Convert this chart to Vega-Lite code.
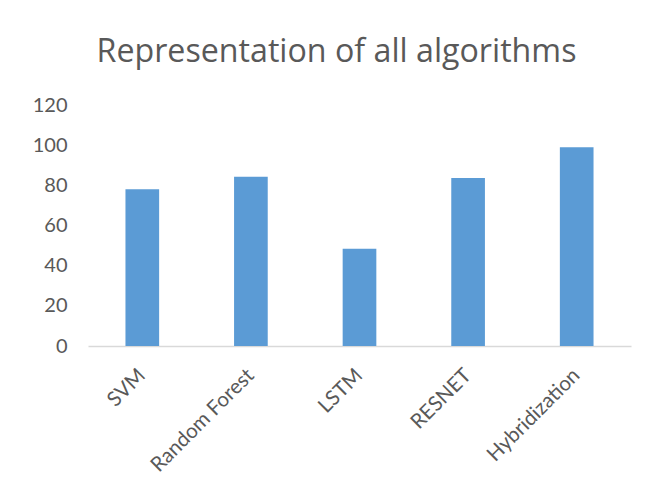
{
  "$schema": "https://vega.github.io/schema/vega-lite/v6.json",
  "width": 543,
  "height": 241,
  "autosize": {"type": "none"},
  "padding": {"left": 88, "top": 105, "right": 18, "bottom": 155},
  "background": "white",
  "title": {
    "text": "Representation of all algorithms",
    "font": "Open Sans",
    "fontSize": 32.2,
    "fontWeight": "normal",
    "color": "#595959",
    "anchor": "middle",
    "frame": "group",
    "dx": -23,
    "offset": 26
  },
  "data": {
    "values": [
      {"algorithm": "SVM", "value": 78},
      {"algorithm": "Random Forest", "value": 84.3},
      {"algorithm": "LSTM", "value": 48.4},
      {"algorithm": "RESNET", "value": 83.7},
      {"algorithm": "Hybridization", "value": 99}
    ]
  },
  "mark": {"type": "bar", "color": "#5B9BD5"},
  "encoding": {
    "x": {
      "field": "algorithm",
      "type": "nominal",
      "sort": null,
      "scale": {"paddingInner": 0.69, "paddingOuter": 0.345},
      "axis": {
        "title": null,
        "labelAngle": -45,
        "labelAlign": "right",
        "labelBaseline": "middle",
        "labelFont": "Lato",
        "labelFontSize": 20.5,
        "labelColor": "#595959",
        "ticks": false,
        "domainColor": "#D9D9D9",
        "domainWidth": 1.5,
        "labelPadding": 26
      }
    },
    "y": {
      "field": "value",
      "type": "quantitative",
      "scale": {"domain": [0, 120]},
      "axis": {
        "title": null,
        "values": [0, 20, 40, 60, 80, 100, 120],
        "grid": false,
        "domain": false,
        "ticks": false,
        "labelFont": "Lato",
        "labelFontSize": 20,
        "labelColor": "#595959",
        "labelPadding": 21
      }
    }
  },
  "config": {"view": {"stroke": null}}
}
